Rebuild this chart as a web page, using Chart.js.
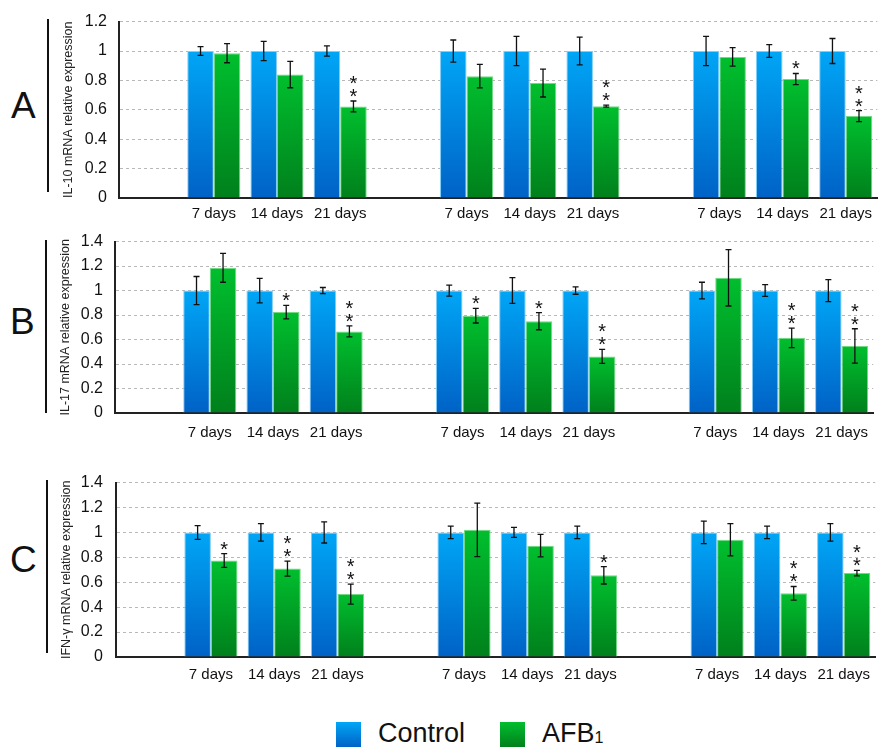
<!DOCTYPE html>
<html>
<head>
<meta charset="utf-8">
<script src="https://cdn.jsdelivr.net/npm/chart.js@4.4.1/dist/chart.umd.min.js"></script>
<style>
  body { margin: 0; width: 879px; height: 748px; position: relative; overflow: hidden; background: #fff;
         font-family: "Liberation Sans", Arial, sans-serif; color: #111; }
  .panel { position: absolute; left: 0; }
  .letter { position: absolute; font-size: 37px; line-height: 37px; }
  .vbar { position: absolute; width: 2px; background: #111; }
  .swatch { position: absolute; width: 25px; height: 25px; top: 722px; }
  .legtext { position: absolute; top: 720px; font-size: 27px; line-height: 27px; white-space: nowrap; }
  .legtext sub { font-size: 16px; vertical-align: -1px; }
</style>
</head>
<body>

<div class="letter" style="left:11px;top:87px">A</div>
<div class="vbar" style="left:47px;top:19px;height:173px"></div>
<div class="panel" style="top:0"><canvas id="chartA" width="879" height="232"></canvas></div>

<div class="letter" style="left:10px;top:303px">B</div>
<div class="vbar" style="left:45px;top:240px;height:173px"></div>
<div class="panel" style="top:220px"><canvas id="chartB" width="879" height="230"></canvas></div>

<div class="letter" style="left:10px;top:541px">C</div>
<div class="vbar" style="left:46px;top:480px;height:173px"></div>
<div class="panel" style="top:460px"><canvas id="chartC" width="879" height="230"></canvas></div>

<div class="swatch" style="left:336px;background:linear-gradient(#00a6f6,#0062c6)"></div>
<div class="legtext" style="left:378px">Control</div>
<div class="swatch" style="left:500px;background:linear-gradient(#00bf2e,#00801c)"></div>
<div class="legtext" style="left:542px">AFB<sub>1</sub></div>

<script>
// categorie: tre gruppi (7/14/21 giorni) separati da uno slot vuoto
const categories = ['', '7 days', '14 days', '21 days', '', '7 days', '14 days', '21 days', '', '7 days', '14 days', '21 days'];

// IL-10
const il10Control   = [null, 1, 1, 1, null, 1, 1, 1, null, 1, 1, 1];
const il10ControlSd = [null, 0.03, 0.065, 0.035, null, 0.075, 0.1, 0.095, null, 0.1, 0.043, 0.085];
const il10Afb       = [null, 0.985, 0.84, 0.623, null, 0.829, 0.782, 0.625, null, 0.96, 0.809, 0.557];
const il10AfbSd     = [null, 0.065, 0.09, 0.037, null, 0.08, 0.095, 0.007, null, 0.063, 0.038, 0.038];
const il10Stars     = ['', '', '', '**', '', '', '', '**', '', '', '*', '**'];

// IL-17
const il17Control   = [null, 1, 1, 1, null, 1, 1, 1, null, 1, 1, 1];
const il17ControlSd = [null, 0.115, 0.1, 0.025, null, 0.045, 0.105, 0.03, null, 0.068, 0.048, 0.09];
const il17Afb       = [null, 1.186, 0.824, 0.666, null, 0.795, 0.75, 0.462, null, 1.104, 0.614, 0.548];
const il17AfbSd     = [null, 0.118, 0.055, 0.045, null, 0.06, 0.07, 0.057, null, 0.23, 0.08, 0.14];
const il17Stars     = ['', '', '*', '**', '', '*', '*', '**', '', '', '**', '**'];

// IFN-γ
const ifnControl   = [null, 1, 1, 1, null, 1, 1, 1, null, 1, 1, 1];
const ifnControlSd = [null, 0.055, 0.07, 0.085, null, 0.05, 0.04, 0.05, null, 0.09, 0.05, 0.07];
const ifnAfb       = [null, 0.775, 0.71, 0.505, null, 1.021, 0.894, 0.656, null, 0.941, 0.511, 0.674];
const ifnAfbSd     = [null, 0.055, 0.06, 0.08, null, 0.215, 0.09, 0.07, null, 0.13, 0.055, 0.022];
const ifnStars     = ['', '*', '**', '**', '', '', '', '*', '', '', '**', '**'];

Chart.defaults.font.family = '"Liberation Sans", Arial, sans-serif';
Chart.defaults.color = '#111';

// gradiente verticale per ogni barra (chiaro in alto, scuro in basso)
function barGradient(c, top, bottom) {
  const chart = c.chart;
  if (!chart.chartArea || c.raw == null) return top;
  const y = chart.scales.y;
  const g = chart.ctx.createLinearGradient(0, y.getPixelForValue(c.raw), 0, y.getPixelForValue(0));
  g.addColorStop(0, top);
  g.addColorStop(1, bottom);
  return g;
}

// barre d'errore e asterischi disegnati sopra le barre
const errorBarPlugin = {
  id: 'errorBars',
  afterDatasetsDraw(chart) {
    const ctx = chart.ctx;
    const y = chart.scales.y;
    chart.data.datasets.forEach((ds, i) => {
      const meta = chart.getDatasetMeta(i);
      meta.data.forEach((bar, j) => {
        const v = ds.data[j];
        const e = ds.errors ? ds.errors[j] : null;
        if (v == null || e == null) return;
        const top = y.getPixelForValue(v + e);
        const bot = y.getPixelForValue(v - e);
        ctx.save();
        ctx.strokeStyle = '#111';
        ctx.lineWidth = 1.3;
        ctx.beginPath();
        ctx.moveTo(bar.x, top); ctx.lineTo(bar.x, bot);
        ctx.moveTo(bar.x - 3, top); ctx.lineTo(bar.x + 3, top);
        ctx.moveTo(bar.x - 3, bot); ctx.lineTo(bar.x + 3, bot);
        ctx.stroke();
        const s = ds.stars ? ds.stars[j] : '';
        ctx.fillStyle = '#111';
        ctx.font = '20px "Liberation Sans", Arial, sans-serif';
        ctx.textAlign = 'center';
        ctx.textBaseline = 'alphabetic';
        for (let k = 0; k < s.length; k++) {
          ctx.fillText('*', bar.x, top + 2 - k * 13);
        }
        ctx.restore();
      });
    });
  }
};

function makePanel(id, cfg) {
  return new Chart(document.getElementById(id), {
    type: 'bar',
    data: {
      labels: categories,
      datasets: [{
        label: 'Control',
        data: cfg.control,
        errors: cfg.controlSd,
        backgroundColor: c => barGradient(c, '#00a6f6', '#0062c6'),
        borderColor: '#7fcdf9',
        borderWidth: 1,
        categoryPercentage: 0.84,
        barPercentage: 1
      }, {
        label: 'AFB1',
        data: cfg.afb,
        errors: cfg.afbSd,
        stars: cfg.stars,
        backgroundColor: c => barGradient(c, '#00bf2e', '#00801c'),
        borderColor: '#74d884',
        borderWidth: 1,
        categoryPercentage: 0.84,
        barPercentage: 1
      }]
    },
    options: {
      responsive: false,
      animation: false,
      devicePixelRatio: 1,
      layout: { padding: { left: cfg.left, right: cfg.right, top: cfg.top, bottom: cfg.bottom } },
      plugins: { legend: { display: false }, tooltip: { enabled: false } },
      scales: {
        x: {
          grid: { display: false, drawTicks: false },
          border: { display: true, color: '#222', width: 2 },
          ticks: { font: { size: 15 }, padding: cfg.xPad, maxRotation: 0, autoSkip: false },
          afterFit: s => { s.height = 30; }
        },
        y: {
          min: 0,
          max: cfg.max,
          grid: { color: '#b8b8b8', drawTicks: false, lineWidth: 1 },
          border: { color: '#222', width: 2, dash: [3, 3] },
          ticks: {
            stepSize: 0.2,
            font: { size: 16 },
            padding: cfg.yPad,
            callback: v => String(Math.round(v * 10) / 10)
          },
          title: { display: true, text: cfg.title, color: '#222', font: { size: 12.5 }, padding: { top: cfg.titlePad, bottom: 0 } },
          afterFit: s => { s.width = cfg.axisX - cfg.left; }
        }
      }
    },
    plugins: [errorBarPlugin]
  });
}

makePanel('chartA', {
  control: il10Control, controlSd: il10ControlSd, afb: il10Afb, afbSd: il10AfbSd, stars: il10Stars,
  title: 'IL-10 mRNA relative expression', max: 1.2,
  left: 55, right: 0, top: 17, bottom: 4, axisX: 119, titlePad: 6.5, xPad: 7, yPad: 12
});

makePanel('chartB', {
  control: il17Control, controlSd: il17ControlSd, afb: il17Afb, afbSd: il17AfbSd, stars: il17Stars,
  title: 'IL-17 mRNA relative expression', max: 1.4,
  left: 55, right: 3, top: 15, bottom: 7, axisX: 115, titlePad: 3.5, xPad: 11, yPad: 12
});

makePanel('chartC', {
  control: ifnControl, controlSd: ifnControlSd, afb: ifnAfb, afbSd: ifnAfbSd, stars: ifnStars,
  title: 'IFN-γ mRNA relative expression', max: 1.4,
  left: 55, right: 2, top: 17, bottom: 3, axisX: 116, titlePad: 4, xPad: 9, yPad: 13
});
</script>
</body>
</html>
